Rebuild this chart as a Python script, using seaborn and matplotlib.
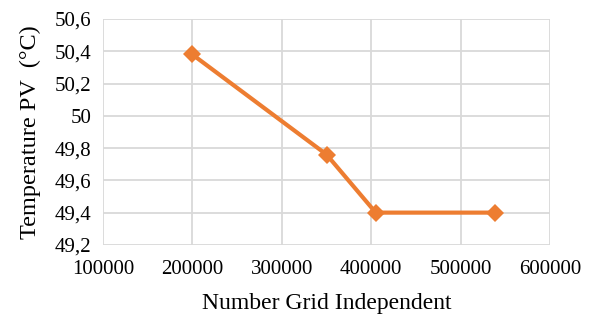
import matplotlib
matplotlib.use("Agg")
import matplotlib.pyplot as plt
import matplotlib.ticker as mticker
import seaborn as sns
import pandas as pd

# data
grid_cells = [200000, 350000, 405000, 538000]
temperature_pv = [50.38, 49.76, 49.40, 49.40]

x_ticks = [100000, 200000, 300000, 400000, 500000, 600000]
y_ticks = [49.2, 49.4, 49.6, 49.8, 50.0, 50.2, 50.4, 50.6]

df = pd.DataFrame({"Grid": grid_cells, "Temp": temperature_pv})

sns.set_theme(style="white")
plt.rcParams["font.family"] = ["Liberation Serif", "DejaVu Serif"]

fig = plt.figure(figsize=(5.91, 3.16), dpi=100)
ax = fig.add_axes([0.174, 0.225, 0.757, 0.715])

sns.lineplot(data=df, x="Grid", y="Temp", ax=ax, color="#ED7D31",
             linewidth=3, marker="D", markersize=9, markeredgewidth=0)

ax.set_xlim(100000, 600000)
ax.set_ylim(49.2, 50.6)
ax.set_xticks(x_ticks)
ax.set_yticks(y_ticks)
ax.xaxis.set_major_formatter(mticker.FuncFormatter(lambda v, p: f"{int(v)}"))
ax.yaxis.set_major_formatter(mticker.FuncFormatter(
    lambda v, p: (f"{v:.1f}".rstrip("0").rstrip(".")).replace(".", ",")))

ax.grid(True, color="#d9d9d9", linewidth=1.3)
ax.set_axisbelow(True)
for s in ax.spines.values():
    s.set_visible(False)
ax.tick_params(axis="both", labelsize=15, colors="#d9d9d9", labelcolor="black",
               length=5, width=1.3, direction="out")
ax.tick_params(axis="x", pad=6)
ax.tick_params(axis="y", pad=3)

ax.set_xlabel("Number Grid Independent", fontsize=17, labelpad=10, color="black")
ax.set_ylabel("Temperature PV  (°C)", fontsize=17.5, labelpad=10, color="black")

fig.savefig("out.png", dpi=100)
